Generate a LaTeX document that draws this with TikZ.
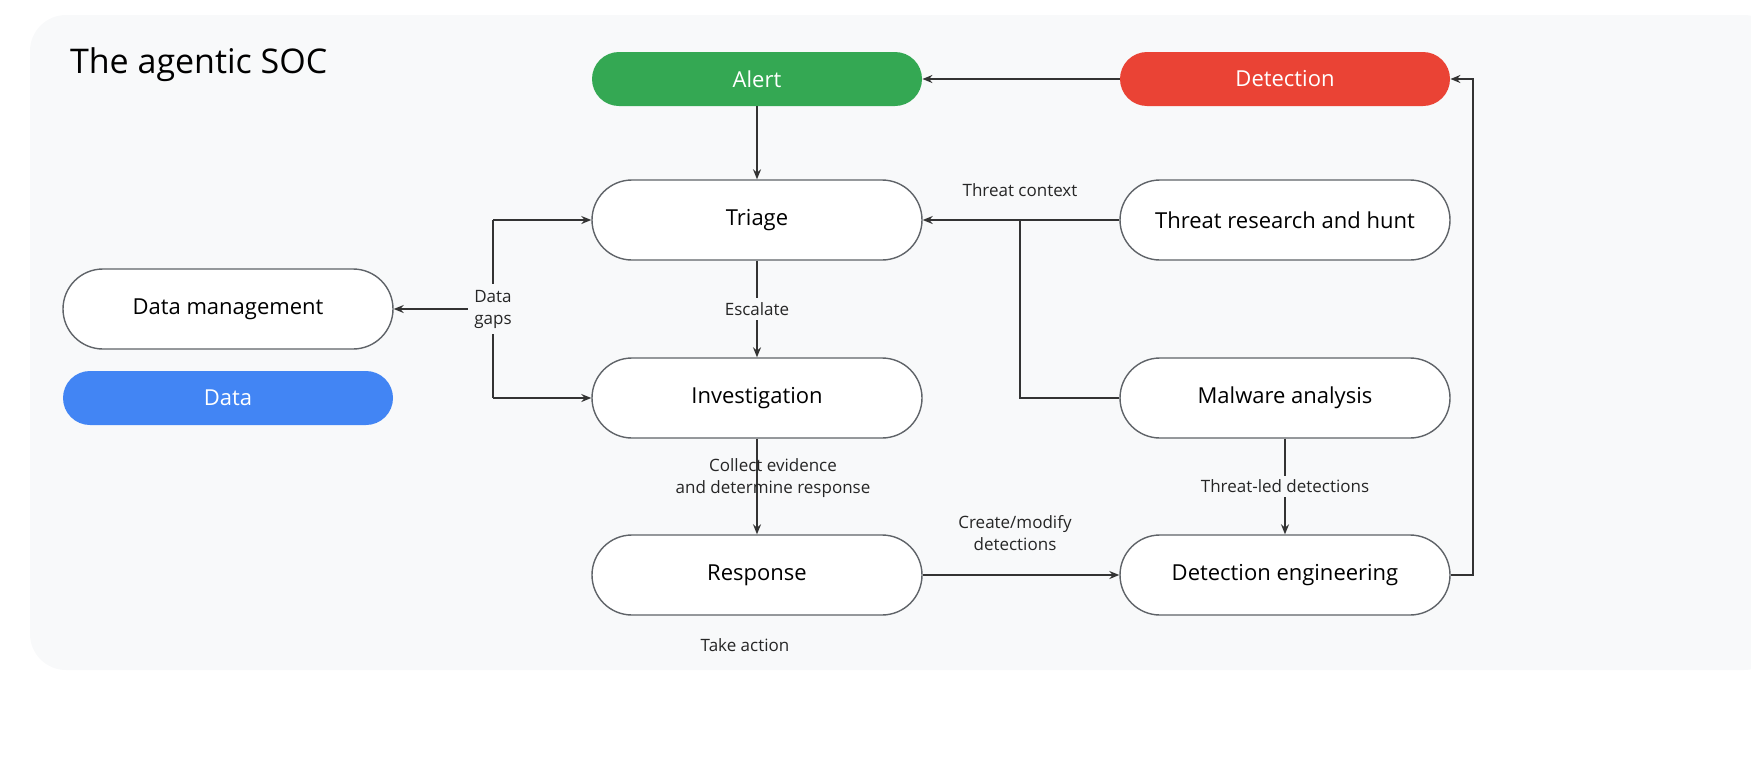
\documentclass[tikz,border=0pt]{standalone}
\usepackage{fontspec}
\setmainfont{Open Sans}
\usetikzlibrary{arrows.meta}
\definecolor{bgc}{HTML}{F8F9FA}
\definecolor{gg}{HTML}{34A853}
\definecolor{gr}{HTML}{EA4335}
\definecolor{gb}{HTML}{4285F4}
\definecolor{bd}{HTML}{5F6368}
\begin{document}
\begin{tikzpicture}[x=0.5pt,y=-0.5pt,
 box/.style={draw=bd,line width=0.7pt,fill=white,rounded corners=20pt,minimum width=165pt,minimum height=40pt,inner sep=0pt,font=\fontsize{11}{13}\selectfont},
 pill/.style={rounded corners=13.5pt,minimum width=165pt,minimum height=27pt,inner sep=0pt,text=white,font=\fontsize{11}{13}\selectfont},
 lab/.style={font=\fontsize{8.5}{11}\selectfont,align=center,text=black!85},
 arr/.style={-{Stealth[length=5pt,width=4pt]},line width=0.7pt,draw=black!80},
 ln/.style={line width=0.7pt,draw=black!80}]
\useasboundingbox (0,0) rectangle (1751,766);
\begin{scope}
\clip (0,0) rectangle (1751,766);
\fill[bgc,rounded corners=18pt] (30,15) rectangle (1780,670);
\end{scope}
\node[anchor=west,font=\fontsize{17}{20}\selectfont] (title) at (63,65) {The agentic SOC};
\node[pill,fill=gg] (alert) at (757,79) {Alert};
\node[pill,fill=gr] (det) at (1285,79) {Detection};
\node[box] (triage) at (757,220) {Triage};
\node[box] (threat) at (1285,220) {Threat research and hunt};
\node[box] (dm) at (228,309) {Data management};
\node[pill,fill=gb] (data) at (228,398) {Data};
\node[box] (inv) at (757,398) {Investigation};
\node[box] (mal) at (1285,398) {Malware analysis};
\node[box] (resp) at (757,575) {Response};
\node[box] (de) at (1285,575) {Detection engineering};
\draw[arr] (det) -- (alert);
\draw[arr] (alert) -- (triage);
\draw[arr] (triage) -- node[lab,fill=bgc,inner sep=2pt]{Escalate} (inv);
\draw[arr] (inv.south) -- (resp.north);
\node[lab] (ce) at (773,478) {Collect evidence\\and determine response};
\draw[arr] (resp) -- (de);
\node[lab] (cm) at (1015,533) {Create/modify\\detections};
\draw[arr] (mal) -- node[lab,fill=bgc,inner sep=2pt]{Threat-led detections} (de);
\coordinate (c1) at (1473,575);
\coordinate (c2) at (1473,79);
\draw[arr] (de.east) -- (c1) -- (c2) -- (det.east);
\draw[arr] (threat) -- (triage);
\node[lab] (tc) at (1020,190) {Threat context};
\coordinate (j1) at (1020,398);
\coordinate (j2) at (1020,220);
\draw[ln] (mal.west) -- (j1) -- (j2);
\coordinate (g1) at (493,220);
\coordinate (g2) at (493,398);
\draw[arr] (g1) -- (triage.west);
\draw[ln] (g1) -- (g2);
\draw[arr] (g2) -- (inv.west);
\node[lab,fill=bgc,inner sep=3pt] (gaps) at (493,309) {Data\\gaps};
\draw[arr] (gaps.west) -- (dm.east);
\node[lab] (ta) at (745,645) {Take action};
\end{tikzpicture}
\end{document}
